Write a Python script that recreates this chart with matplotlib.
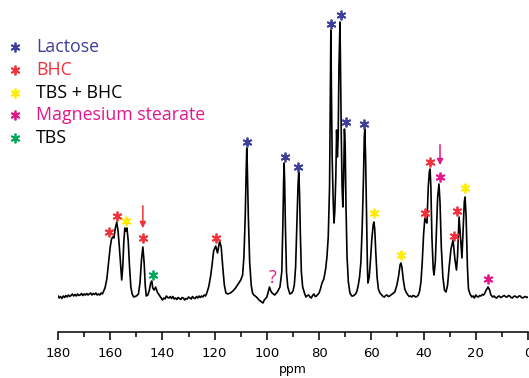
import matplotlib.pyplot as plt

# Spektrum: kimyasal kayma (ppm) ve yoğunluk (keyfi birim), resimden okunmuş noktalar
ppm = [180, 179.5, 179, 178.5, 178, 177.5, 177, 176.5, 176, 175.5, 175, 174.5, 174, 173.5, 173,
       172.5, 172, 171.5, 171, 170.5, 170, 169.5, 169, 168.5, 168, 167.5, 167, 166.5, 166,
       165.5, 165, 164.5, 164, 163.5, 163,
       162.5, 162, 161.3, 160.6, 160, 159.5, 159, 158.6, 158.1, 157.5, 157, 156.5, 156, 155.6,
       155.2, 154.8, 154.4, 154, 153.6, 153.1, 152.6, 152.1, 151.6, 151, 150, 149.2, 148.6, 148,
       147.5, 147, 146.6, 146.2, 145.6, 145, 144.5, 144.1, 143.7, 143.2, 142.6, 142, 141, 140.5,
       140, 139.5, 139, 138.5, 138, 137.5, 137, 136.5, 136, 135.5, 135, 134.5, 134, 133.5, 133,
       132.5, 132, 131.5, 131, 130.5, 130, 129.5, 129, 128.5, 128, 127.5, 127, 126.5, 126,
       125.5, 125, 124.5, 124, 123.5, 123,
       122.3, 121.6, 121, 120.4, 119.6, 118.9, 118.1, 117.5, 116.9, 116.3, 115.7, 115, 114, 113,
       112, 111, 110, 109.3, 108.8, 108.3, 107.9, 107.7, 107.5, 107.1, 106.6, 106, 105.5, 105,
       104, 103, 102, 101.5, 101, 100, 99.5, 99, 98.5, 98, 97, 96, 95, 94.3, 93.9, 93.6, 93.4,
       93.2, 92.9, 92.5, 92, 91.2, 90.5, 90, 89.5, 89, 88.5, 88.1, 87.8, 87.5, 87.2, 86.8, 86.3,
       85.5, 85, 84.5, 84, 83.5, 83, 82.5, 82, 81.5, 81, 80.5, 80, 79.5, 78.9, 78.2, 77.5, 77,
       76.5, 76, 75.7, 75.5, 75.3, 75,
       74.6, 74.3, 74, 73.6, 73.3, 73, 72.7, 72.4, 72, 71.8, 71.5, 71.2, 70.9, 70.6, 70.3, 70,
       69.7, 69.3, 68.8, 68.2, 67.5, 67, 66, 65.5, 65, 64.5, 64, 63.5, 63, 62.7, 62.5, 62.2,
       61.8, 61.5, 61.3, 60.8, 60.3, 59.8, 59.3, 59, 58.7, 58.3, 57.8, 57.3, 56.7, 56, 55.5, 55,
       54.5, 54, 53.5, 53, 52.5, 52, 51, 50.2, 49.5, 49, 48.7, 48.3, 47.8, 47.2, 46.5, 46, 45.5,
       45, 44.5, 44, 43.5, 43, 42.5, 42, 41.5,
       41, 40.5, 40, 39.5, 39, 38.7, 38.2, 37.8, 37.5, 37.2, 36.8, 36.3, 36, 35.5, 35, 34.6,
       34.1, 33.7, 33.2, 32.6, 32, 31.4, 30.8, 30.2, 29.5, 28.7, 28, 27.4, 27, 26.4, 26, 25.3,
       24.8, 24.4, 24.1, 23.7, 23.2, 22.8, 22.2, 21.5, 21, 20.5, 20, 19.5, 19, 18.5, 18, 17.5,
       17, 16.5, 16, 15.3, 14.7, 14.2, 13.5, 13, 12.5, 12, 11.5, 11, 10.5, 10, 9.5, 9, 8.5, 8,
       7.5, 7, 6.5, 6, 5.5, 5, 4.5, 4, 3.5, 3, 2.5, 2, 1.5, 1, 0.5, 0]
intensity = [1, -1, 0.5, -1.5, 1, -0.5, 1.5, 0, 2, 0.5, 1.5, 3, 1, 2.5, 1,
             3, 1.5, 2, 3.5, 1.5, 3, 2, 3.5, 2, 3, 4, 2, 3.5, 2.5,
             4, 2, 3, 2, 4, 3,
             6, 9, 18, 35, 50, 58, 60, 59, 68, 75, 66, 50, 32, 17,
             30, 55, 69, 66, 69, 56, 30, 10, 3, 0, 1, 3, 14, 38,
             50, 34, 12, 1, 2, 7, 14, 16, 9, 7, 10, 5, 1, -1,
             -3, -1, -2, 1, -0.5, -1, 0.5, -1.5, 0.5, -2, -1, -2.5, -0.5, -1.5, -2.5,
             -0.5, -1, -3, -1.5, -2, 0, -1, -2, 0.5, -1, -1.5, 0.5, -1, 1,
             -0.5, 1, 0, 2, 1, 4,
             10, 20, 32, 46, 51, 44, 56, 50, 30, 12, 4, 3, 4, 6,
             9, 13, 17, 22, 40, 80, 130, 149, 130, 80, 35, 12, 4, 2,
             0, -3, -5, -6, -3, 0, 5, 10, 6, 4, 2, 5, 10, 25, 70, 115, 134,
             115, 70, 25, 10, 3, 4, 6, 12, 30, 75, 110, 125, 105, 65, 25, 10,
             3, 0, 1.5, 2, 0, -1, 1.5, 3, 0.5, 1, 2.5, 4, 8, 14, 18, 28, 40,
             60, 110, 200, 267, 210, 140,
             95, 74, 85, 120, 167, 140, 160, 230, 275, 230, 160, 110, 90, 120, 168, 150,
             90, 40, 15, 4, 1, 1, 3, 6, 12, 20, 35, 70, 120, 160, 168, 140,
             80, 30, 14, 20, 38, 58, 72, 75, 68, 45, 20, 8, 4, 2, 0.5, 0,
             1.5, 2, 0.5, 1, 2, 3, 5, 12, 22, 32, 34, 30, 18, 8, 4, 2, 0.5,
             1, 0, 1.5, 1, 0, 0.5, 2, 6,
             15, 35, 62, 79, 75, 74, 110, 125, 128, 110, 60, 28, 22, 35, 70, 100,
             113, 95, 50, 20, 7, 5, 12, 30, 48, 57, 38, 27, 40, 80, 65, 39,
             70, 95, 100, 80, 30, 8, 3, 0, 1, -1, 2, 0.5, 0, 1.5, 1, 2.5,
             2, 4, 7, 10, 7, 2, 0, 1, -0.5, -1, 0.5, 1, -0.5, 0, 1, 1.5, 0, 0,
             1.5, 1, -0.5, -1, 0.5, 1, 0, -0.5, 1, 1, -0.5, -1, 0, 0.5, -0.5, 0]

# Yıldız işaretleri: her grup için (ppm, yükseklik)
groups = ["Lactose", "BHC", "TBS + BHC", "Magnesium stearate", "TBS"]
colors = ["#3d3f9b", "#f0323c", "#ffec00", "#e6168a", "#00a85a"]
text_colors = ["#3d3f9b", "#f0323c", "black", "#e6168a", "black"]
star_ppm = [
    [107.7, 93.1, 88.1, 75.5, 71.6, 69.7, 62.8],
    [160.5, 157.5, 147.5, 119.5, 39.5, 37.5, 28.4, 27.2],
    [154.0, 59.0, 48.7, 24.1],
    [33.7, 15.3],
    [143.7],
]
star_int = [
    [155, 140, 130, 273, 282, 175, 173],
    [65, 81, 59, 59, 84, 135, 61, 86],
    [76, 84, 42, 109],
    [120, 18],
    [22],
]

fig = plt.figure(figsize=(5.29, 3.78), dpi=100)
ax = fig.add_axes([58 / 529, 46 / 378, 470 / 529, 332 / 378])
plt.rcParams['font.family'] = ['Open Sans', 'DejaVu Sans']

ax.plot(ppm, intensity, color="black", lw=1.2)

for i in range(len(groups)):
    ax.plot(star_ppm[i], star_int[i], ls="none", marker=(6, 2, 0), ms=7,
            mew=1.3, color=colors[i])

# oklar ve soru işareti
ax.annotate("", xy=(147.5, 66), xytext=(147.5, 94),
            arrowprops=dict(arrowstyle="-|>", color="#f0323c", lw=1.1, mutation_scale=9))
ax.annotate("", xy=(33.7, 129), xytext=(33.7, 155),
            arrowprops=dict(arrowstyle="-|>", color="#e6168a", lw=1.1, mutation_scale=9))
ax.text(97.7, 19, "?", color="#e6168a", fontsize=13, ha="center", va="center")

ax.set_xlim(180, 0)
ax.set_ylim(-35, 297)
ax.set_xticks(range(0, 181, 20))
ax.set_xticks(range(10, 180, 20), minor=True)
ax.tick_params(axis="x", which="major", length=6, width=1.1, labelsize=9.5, pad=5)
ax.tick_params(axis="x", which="minor", length=3.5, width=1.1)
ax.set_yticks([])
for s in ["top", "left", "right"]:
    ax.spines[s].set_visible(False)
ax.spines["bottom"].set_linewidth(1.1)
ax.set_xlabel("ppm", fontsize=9, labelpad=2)

# legend
for i, name in enumerate(groups):
    y = 1 - (47 + 22.8 * i) / 378
    ax.plot([15 / 529], [y], transform=fig.transFigure, marker=(6, 2, 0), ms=7,
            mew=1.3, color=colors[i], clip_on=False)
    fig.text(36 / 529, y, name, color=text_colors[i], fontsize=12.8, va="center")

plt.savefig("out.png")
